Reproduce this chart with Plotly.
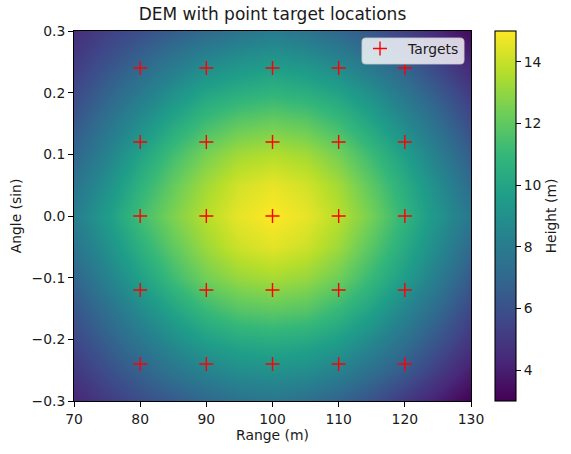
import plotly.graph_objects as go

range_m = [70, 75, 80, 85, 90, 95, 100, 105, 110, 115, 120, 125, 130]
angle_sin = [-0.30, -0.25, -0.20, -0.15, -0.10, -0.05, 0.0, 0.05, 0.10, 0.15, 0.20, 0.25, 0.30]
height_m = [
    [4.3, 5.1, 5.8, 6.4, 7.0, 7.5, 7.7, 7.4, 6.8, 6.0, 5.0, 4.0, 3.0],
    [5.0, 5.9, 6.8, 7.7, 8.4, 8.9, 9.1, 8.9, 8.3, 7.4, 6.4, 5.2, 4.0],
    [5.6, 6.7, 7.8, 8.9, 9.8, 10.3, 10.5, 10.3, 9.7, 8.7, 7.5, 6.2, 4.9],
    [6.2, 7.4, 8.8, 10.0, 11.1, 11.8, 12.0, 11.8, 11.0, 9.9, 8.5, 7.1, 5.6],
    [6.9, 8.3, 9.8, 11.2, 12.4, 13.1, 13.4, 13.1, 12.3, 11.0, 9.6, 8.0, 6.4],
    [7.6, 9.0, 10.6, 12.0, 13.2, 14.1, 14.5, 14.1, 13.2, 11.8, 10.3, 8.7, 7.1],
    [8.1, 9.6, 11.3, 12.6, 13.7, 14.6, 15.0, 14.6, 13.7, 12.4, 10.8, 9.2, 7.7],
    [7.6, 9.0, 10.7, 12.1, 13.3, 14.2, 14.6, 14.2, 13.3, 11.9, 10.4, 8.8, 7.2],
    [6.9, 8.3, 9.9, 11.3, 12.5, 13.3, 13.6, 13.3, 12.4, 11.1, 9.7, 8.1, 6.5],
    [6.3, 7.6, 8.9, 10.2, 11.3, 12.0, 12.3, 12.0, 11.2, 10.0, 8.7, 7.3, 5.8],
    [5.7, 6.8, 7.9, 9.0, 10.0, 10.5, 10.8, 10.5, 9.9, 8.9, 7.7, 6.4, 5.1],
    [5.1, 6.0, 6.9, 7.8, 8.6, 9.1, 9.4, 9.1, 8.5, 7.6, 6.6, 5.4, 4.2],
    [4.6, 5.3, 5.9, 6.5, 7.1, 7.6, 8.0, 7.6, 7.0, 6.2, 5.3, 4.3, 3.3],
]
target_range = [80, 90, 100, 110, 120] * 5
target_angle = [-0.24] * 5 + [-0.12] * 5 + [0.0] * 5 + [0.12] * 5 + [0.24] * 5
x_ticks = [70, 80, 90, 100, 110, 120, 130]
y_ticks = [-0.3, -0.2, -0.1, 0.0, 0.1, 0.2, 0.3]
bar_ticks = [4, 6, 8, 10, 12, 14]

W, H = 571, 454
L, R, T, B = 74, 471, 31, 401
FONT = "DejaVu Sans"
INK = "#1a1a1a"
FS = 13.9


def px(v):
    return (v - L) / (R - L)


def py(v):
    return (B - v) / (B - T)


fig = go.Figure()
fig.add_trace(go.Heatmap(
    x=range_m, y=angle_sin, z=height_m, zmin=3, zmax=15, zsmooth="best",
    colorscale="Viridis", showscale=True,
    colorbar=dict(
        title=dict(text="Height (m)", side="right", font=dict(family=FONT, size=FS, color=INK)),
        tickvals=bar_ticks, ticks="outside", ticklen=4.9, tickwidth=1.1, tickcolor="black",
        tickfont=dict(family=FONT, size=FS, color=INK),
        thickness=21, thicknessmode="pixels", lenmode="fraction", len=1.0,
        x=495 / W, xanchor="left", xref="container", y=0.5, yanchor="middle", yref="paper",
        xpad=0, ypad=0, outlinewidth=1.1, outlinecolor="black",
    ),
))
fig.add_trace(go.Scatter(
    x=target_range, y=target_angle, mode="markers", name="Targets", showlegend=True,
    marker=dict(symbol="cross-thin", size=10, color="red", line=dict(color="red", width=1.4)),
))
axis = dict(showgrid=False, zeroline=False, showline=True, mirror=True, linecolor="black", linewidth=1.1,
            ticks="outside", ticklen=4.9, tickwidth=1.1, tickcolor="black",
            tickfont=dict(family=FONT, size=FS, color=INK))
fx0, fx1, fy0, fy1, rc = px(362), px(464), py(38), py(64), 4
ax, ay = rc / (R - L), rc / (B - T)
frame = (f"M{fx0 + ax},{fy0} L{fx1 - ax},{fy0} Q{fx1},{fy0} {fx1},{fy0 - ay} "
         f"L{fx1},{fy1 + ay} Q{fx1},{fy1} {fx1 - ax},{fy1} L{fx0 + ax},{fy1} "
         f"Q{fx0},{fy1} {fx0},{fy1 + ay} L{fx0},{fy0 - ay} Q{fx0},{fy0} {fx0 + ax},{fy0} Z")
fig.add_shape(type="path", xref="paper", yref="paper", path=frame, layer="above",
              fillcolor="rgba(255,255,255,0.8)", line=dict(color="rgba(204,204,204,0.8)", width=1.1))
fig.update_layout(
    width=W, height=H, autosize=False,
    margin=dict(l=L, r=W - R, t=T, b=H - B, pad=0, autoexpand=False),
    paper_bgcolor="white", plot_bgcolor="white",
    title=dict(text="DEM with point target locations", x=(L + R) / 2 / W, xanchor="center",
               y=1 - 14 / H, yanchor="middle", font=dict(family=FONT, size=17, color=INK)),
    xaxis=dict(axis, range=[70, 130], tickvals=x_ticks, title=dict(text="Range (m)", standoff=4, font=dict(family=FONT, size=FS, color=INK))),
    yaxis=dict(axis, range=[-0.3, 0.3], tickvals=y_ticks, tickformat=".1f", title=dict(text="Angle (sin)", standoff=6, font=dict(family=FONT, size=FS, color=INK))),
    legend=dict(x=px(352), xanchor="left", y=py(33), yanchor="top", bgcolor="rgba(0,0,0,0)",
                borderwidth=0, itemwidth=46, font=dict(family=FONT, size=FS, color=INK)),
)
fig.write_html("out.html", config={"displayModeBar": False}, post_script="document.body.style.margin='0';")
